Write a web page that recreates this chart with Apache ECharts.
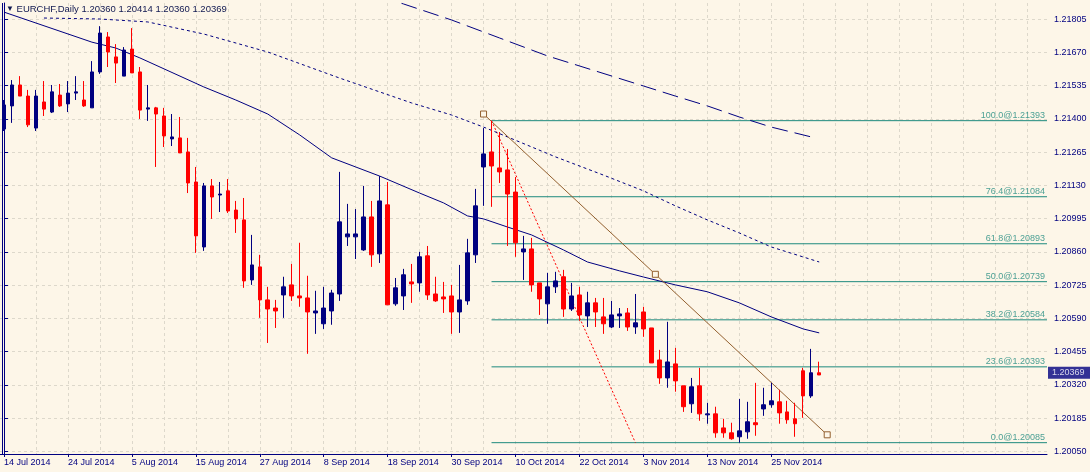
<!DOCTYPE html>
<html><head><meta charset="utf-8">
<script src="https://cdn.jsdelivr.net/npm/echarts@6/dist/echarts.min.js"></script>
<style>html,body{margin:0;padding:0;background:#fdf6e8;}#c{width:1090px;height:472px;}</style>
</head><body><div id="c"></div>
<script>
const symbolName = 'EURCHF,Daily';
const startDate = '2014-07-14';
const MONTHS = ['Jan','Feb','Mar','Apr','May','Jun','Jul','Aug','Sep','Oct','Nov','Dec'];

const opens = [1.21359,1.21453,1.21538,1.21493,1.21363,1.21469,1.21428,1.21497,1.21461,1.21505,
1.21477,1.21445,1.21591,1.21733,1.21652,1.21574,1.21684,1.21591,1.21440,1.21445,
1.21412,1.21319,1.21323,1.21266,1.21144,1.20880,1.21128,1.21091,1.21108,1.21030,
1.20990,1.20746,1.20799,1.20665,1.20632,1.20685,1.20726,1.20681,1.20673,1.20612,
1.20568,1.20620,1.20689,1.20921,1.20921,1.20868,1.21002,1.20852,1.21051,1.20649,
1.20681,1.20738,1.20734,1.20844,1.20689,1.20677,1.20681,1.20616,1.20661,1.20848,
1.21205,1.21266,1.21201,1.21193,1.21103,1.20860,1.20872,1.20734,1.20649,1.20718,
1.20759,1.20628,1.20685,1.20600,1.20653,1.20596,1.20555,1.20600,1.20612,1.20555,
1.20616,1.20551,1.20421,1.20348,1.20405,1.20316,1.20243,1.20316,1.20198,1.20202,
1.20145,1.20125,1.20109,1.20129,1.20166,1.20222,1.20239,1.20251,1.20210,1.20182,
1.20377,1.20275,1.20360];
const highs = [1.21477,1.21558,1.21574,1.21518,1.21518,1.21554,1.21538,1.21542,1.21554,1.21574,
1.21554,1.21635,1.21777,1.21753,1.21704,1.21692,1.21769,1.21611,1.21538,1.21449,
1.21445,1.21420,1.21408,1.21323,1.21205,1.21140,1.21156,1.21144,1.21156,1.21067,
1.21079,1.20929,1.20848,1.20718,1.20665,1.20759,1.20811,1.20897,1.20763,1.20702,
1.20718,1.20706,1.21185,1.21055,1.21034,1.21128,1.21067,1.21168,1.21144,1.20754,
1.20791,1.20811,1.20860,1.20884,1.20759,1.20738,1.20726,1.20807,1.20913,1.21116,
1.21363,1.21393,1.21347,1.21278,1.21164,1.20925,1.20917,1.20734,1.20775,1.20779,
1.20787,1.20734,1.20718,1.20698,1.20673,1.20673,1.20661,1.20632,1.20632,1.20689,
1.20637,1.20551,1.20462,1.20576,1.20470,1.20316,1.20348,1.20389,1.20247,1.20231,
1.20182,1.20166,1.20263,1.20251,1.20328,1.20308,1.20328,1.20300,1.20255,1.20247,
1.20389,1.20466,1.20414];
const lows = [1.21351,1.21384,1.21493,1.21367,1.21351,1.21412,1.21424,1.21449,1.21428,1.21477,
1.21449,1.21445,1.21583,1.21611,1.21546,1.21574,1.21587,1.21400,1.21392,1.21205,
1.21286,1.21290,1.21262,1.21099,1.20856,1.20864,1.20994,1.21022,1.21018,1.20937,
1.20714,1.20726,1.20592,1.20490,1.20551,1.20592,1.20661,1.20637,1.20446,1.20527,
1.20547,1.20564,1.20661,1.20884,1.20831,1.20864,1.20799,1.20815,1.20645,1.20641,
1.20624,1.20653,1.20698,1.20665,1.20657,1.20612,1.20527,1.20531,1.20645,1.20815,
1.21047,1.21043,1.21140,1.20884,1.20840,1.20746,1.20698,1.20604,1.20568,1.20693,
1.20596,1.20620,1.20580,1.20555,1.20555,1.20527,1.20551,1.20551,1.20539,1.20527,
1.20515,1.20409,1.20324,1.20308,1.20292,1.20210,1.20206,1.20174,1.20162,1.20105,
1.20105,1.20097,1.20085,1.20101,1.20113,1.20194,1.20227,1.20162,1.20162,1.20109,
1.20186,1.20267,1.20360];
const closes = [1.21457,1.21538,1.21493,1.21376,1.21493,1.21440,1.21510,1.21453,1.21505,1.21510,
1.21453,1.21591,1.21749,1.21672,1.21627,1.21680,1.21587,1.21436,1.21445,1.21420,
1.21331,1.21327,1.21262,1.21140,1.20925,1.21128,1.21083,1.21095,1.21026,1.20994,
1.20742,1.20807,1.20665,1.20628,1.20620,1.20718,1.20681,1.20673,1.20616,1.20620,
1.20632,1.20693,1.20982,1.20933,1.20933,1.21002,1.20848,1.21067,1.20645,1.20714,
1.20767,1.20730,1.20840,1.20685,1.20661,1.20669,1.20616,1.20665,1.20856,1.21047,
1.21258,1.21209,1.21185,1.21095,1.20897,1.20872,1.20726,1.20669,1.20718,1.20742,
1.20628,1.20681,1.20604,1.20653,1.20616,1.20568,1.20604,1.20608,1.20555,1.20572,
1.20547,1.20409,1.20348,1.20413,1.20336,1.20231,1.20312,1.20202,1.20202,1.20125,
1.20125,1.20101,1.20133,1.20170,1.20158,1.20239,1.20255,1.20206,1.20178,1.20162,
1.20275,1.20369,1.20369];

// moving averages (bar index, price)
const maSolidIdx = [0,11,14,17,25,29,33,37,41,44,47,52,55,58,60,63,66,70,73,77,80,84,88,92,96,100,102];
const maSolid = [1.21834,1.21712,1.21688,1.21648,1.21530,1.21477,1.21420,1.21335,1.21242,1.21205,1.21168,1.21099,1.21059,1.21006,1.20994,1.20961,1.20929,1.20868,1.20819,1.20783,1.20758,1.20726,1.20698,1.20653,1.20596,1.20547,1.20531];
const maDotIdx = [5,12,18,25,33,42,51,56,60,63,69,75,80,84,88,92,96,102];
const maDot = [1.21810,1.21806,1.21794,1.21745,1.21672,1.21566,1.21465,1.21416,1.21367,1.21327,1.21246,1.21172,1.21108,1.21047,1.20990,1.20937,1.20880,1.20819];
const maDashIdx = [47,50,56,62,68,74,80,84,88,92,96,101];
const maDash = [1.21899,1.21867,1.21802,1.21729,1.21656,1.21595,1.21534,1.21493,1.21453,1.21408,1.21367,1.21327];

const yTicks = [1.20050,1.20185,1.20320,1.20455,1.20590,1.20725,1.20860,1.20995,1.21130,1.21265,1.21400,1.21535,1.21670,1.21805];

const fibPct = [100.0,76.4,61.8,50.0,38.2,23.6,0.0];
const fibLevels = [1.21393,1.21084,1.20893,1.20739,1.20584,1.20393,1.20085];
const fibStart = 61;
const fibDiagIdx = [61,79];
const fibDiagPrice = [1.21393,1.20085];
const trendIdx = [60,81.5,103];
const trendPrice = [1.21420,1.20769,1.20117];

const NAVY = '#000080', RED = '#ff0000', BG = '#fdf6e8', GRID = '#ddd8cb', TEAL = '#1e8a7e', BROWN = '#93602f';
const FONT = '"Liberation Sans", Arial, sans-serif';
const nBars = opens.length;
const nSlots = 131;

const cats = [];
let d = new Date(startDate + 'T00:00:00Z');
while (cats.length < nBars) {
  const wd = d.getUTCDay();
  if (wd !== 0 && wd !== 6) cats.push(d.getUTCDate() + ' ' + MONTHS[d.getUTCMonth()] + ' ' + d.getUTCFullYear());
  d = new Date(d.getTime() + 86400000);
}
while (cats.length < nSlots) cats.push('');

const candleData = opens.map((o, i) => {
  const v = [o, closes[i], lows[i], highs[i]];
  if (i === nBars - 1) return {value: v, itemStyle: {color: RED, borderColor: RED, color0: RED, borderColor0: RED}};
  return v;
});
const zip = (a, b) => a.map((x, i) => [x, b[i]]);
const last = nBars - 1;
const f5 = v => v.toFixed(5);

const series = [];
series.push({
  type: 'candlestick', xAxisIndex: 0, yAxisIndex: 0, data: candleData, barWidth: 4, z: 5,
  itemStyle: {color: NAVY, color0: RED, borderColor: NAVY, borderColor0: RED, borderWidth: 1}
});
const addLine = (idx, vals, color, type, z) => series.push({
  type: 'line', xAxisIndex: 1, yAxisIndex: 0, data: zip(idx, vals), showSymbol: false, symbol: 'none',
  lineStyle: {color: color, width: 1, type: type}, z: z || 3, silent: true
});
addLine(maSolidIdx, maSolid, NAVY, 'solid');
addLine(maDotIdx, maDot, NAVY, [3,3]);
addLine(maDashIdx, maDash, NAVY, [16,7]);
fibLevels.forEach(lv => addLine([fibStart, nSlots - 0.5], [lv, lv], TEAL, 'solid', 2));
addLine(fibDiagIdx, fibDiagPrice, RED, [2,2], 2);
series.push({
  type: 'line', xAxisIndex: 1, yAxisIndex: 0, data: zip(trendIdx, trendPrice), symbol: 'rect', symbolSize: 6,
  showSymbol: true, lineStyle: {color: BROWN, width: 1}, itemStyle: {color: BG, borderColor: BROWN, borderWidth: 1},
  z: 4, silent: true, clip: false
});
series.push({
  type: 'scatter', xAxisIndex: 1, yAxisIndex: 0, clip: false, symbolSize: 0, silent: true, z: 6,
  data: fibLevels.map((lv, i) => [nSlots - 0.5, lv, fibPct[i]]),
  label: {show: true, position: 'left', distance: 2, align: 'right', verticalAlign: 'bottom', offset: [0, -1],
    color: TEAL, fontSize: 9, fontFamily: FONT,
    formatter: p => p.value[2].toFixed(1) + '@' + f5(p.value[1])}
});
// current price box on the price scale
series.push({
  type: 'scatter', xAxisIndex: 1, yAxisIndex: 0, clip: false, symbolSize: 0, silent: true, z: 20,
  data: [[nSlots - 0.5, closes[last]]],
  label: {show: true, position: 'right', distance: 1, align: 'left', verticalAlign: 'middle',
    backgroundColor: NAVY, color: '#ffffff', fontSize: 9, fontFamily: FONT, padding: [2, 8, 1, 4],
    formatter: p => f5(p.value[1])}
});

const chart = echarts.init(document.getElementById('c'), null, {renderer: 'canvas'});
chart.setOption({
  animation: false,
  backgroundColor: BG,
  title: {
    text: '{t|▼} ' + symbolName + ' ' + [opens[last], highs[last], lows[last], closes[last]].map(f5).join(' '),
    left: 6, top: 4, padding: 0,
    textStyle: {fontSize: 9.5, fontWeight: 'normal', color: '#101850', fontFamily: FONT, rich: {t: {fontSize: 8, color: '#101850'}}}
  },
  grid: {left: -1, width: 1048, top: 3, height: 451, show: false},
  xAxis: [{
    type: 'category', data: cats, boundaryGap: true,
    axisLine: {show: true, lineStyle: {color: NAVY, width: 1}},
    axisTick: {show: true, alignWithLabel: true, length: 3, interval: (i, v) => i % 8 === 0 && v !== '', lineStyle: {color: NAVY}},
    axisLabel: {interval: 7, align: 'left', margin: 4, fontSize: 9, color: NAVY, fontFamily: FONT},
    splitLine: {show: true, interval: 3, alignWithLabel: true, lineStyle: {color: GRID, type: [3,3], width: 1}}
  }, {
    type: 'value', min: -0.5, max: nSlots - 0.5, show: false
  }],
  yAxis: [{
    type: 'value', position: 'right', min: 1.20039, max: 1.21871, scale: true,
    axisLine: {show: true, lineStyle: {color: NAVY, width: 1}},
    axisTick: {show: true, length: 4, customValues: yTicks, lineStyle: {color: NAVY}},
    axisLabel: {customValues: yTicks, formatter: v => f5(v), margin: 7, fontSize: 9, color: NAVY, fontFamily: FONT},
    splitLine: {show: true, lineStyle: {color: GRID, type: [3,3], width: 1}}
  }],
  graphic: [{type: 'line', shape: {x1: 2.5, y1: 3, x2: 2.5, y2: 454}, style: {stroke: NAVY, lineWidth: 1}, z: 10, silent: true}],
  series: series
});
</script></body></html>
